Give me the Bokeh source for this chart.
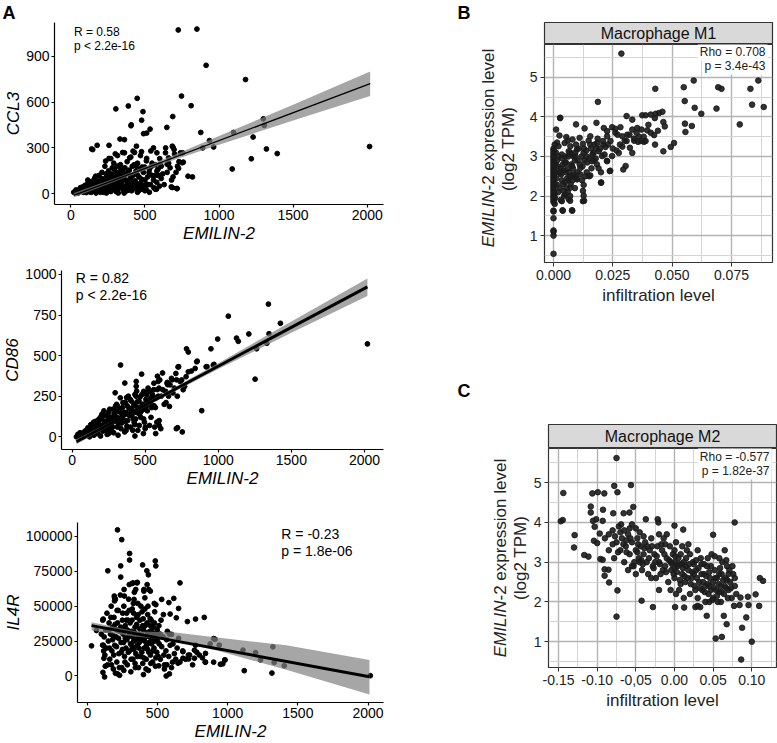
import math
from bokeh.plotting import figure
from bokeh.layouts import row, column
from bokeh.models import (Label, FixedTicker, Range1d, CustomJSTickFormatter,
                          BasicTickFormatter, Title, Div)
from bokeh.embed import file_html
from bokeh.resources import INLINE

FONT = "Liberation Sans"

# ----------------------------- data: panel A -----------------------------
A_X_TICKS = [0, 500, 1000, 1500, 2000]
CCL3_Y_TICKS = [0, 300, 600, 900]
CD86_Y_TICKS = [0, 250, 500, 750, 1000]
IL4R_Y_TICKS = [0, 25000, 50000, 75000, 100000]

ccl3_pts = [
    (725, 1071), (851, 1077), (913, 840), (1179, 747), (448, 624), (747, 639), (304, 555),
    (388, 574), (487, 537), (812, 576), (688, 505), (478, 481), (406, 445), (648, 434),
    (535, 423), (491, 393), (877, 401), (1098, 401), (1299, 490), (1306, 447), (1230, 371),
    (936, 348), (890, 300), (964, 306), (1320, 293), (1393, 263), (2016, 309), (1218, 229),
    (1089, 162), (791, 115), (821, 110), (678, 45), (718, 34), (141, 293), (178, 317),
    (258, 317), (332, 358), (690, 304), (740, 268), (752, 203), (660, 235),
    (408, 451), (512, 397), (362, 354), (685, 311), (697, 289), (443, 311), (558, 300),
    (581, 268), (639, 268), (754, 268), (759, 207), (727, 166), (650, 193), (581, 149),
    (604, 192), (148, 289), (235, 214), (258, 231), (300, 261), (362, 268), (420, 279),
    (477, 275), (512, 231), (397, 235), (316, 181), (443, 181), (547, 181), (685, 41),
    (715, 34), (512, 63), (570, 30),
    (20, 10), (35, 25), (50, 5), (60, 30), (75, 15), (80, 45), (90, 20), (100, 35),
    (105, 8), (110, 60), (120, 25), (125, 50), (130, 12), (140, 80), (145, 40), (150, 20),
    (155, 65), (160, 100), (165, 30), (170, 5), (175, 55), (180, 85), (185, 15), (190, 120),
    (195, 45), (200, 70), (205, 25), (210, 140), (215, 95), (220, 10), (225, 60), (230, 180),
    (235, 35), (240, 110), (245, 75), (250, 20), (255, 150), (260, 50), (265, 90), (270, 230),
    (275, 130), (280, 30), (285, 70), (290, 200), (295, 160), (300, 105), (305, 15), (310, 55),
    (315, 250), (320, 85), (325, 140), (330, 40), (335, 190), (340, 115), (345, 65), (350, 270),
    (355, 20), (360, 95), (365, 170), (370, 45), (375, 130), (380, 210), (385, 75), (390, 25),
    (395, 155), (400, 100), (405, 240), (410, 60), (415, 180), (420, 120), (425, 35), (430, 270),
    (435, 85), (440, 150), (450, 200), (455, 55), (460, 110), (470, 250), (475, 30), (480, 175),
    (490, 140), (500, 90), (510, 215), (520, 60), (530, 160), (540, 280), (550, 120), (560, 40),
    (570, 190), (580, 75), (600, 230), (620, 130), (640, 300), (660, 200), (680, 90), (700, 260),
    (720, 180), (130, 70), (170, 40), (200, 10), (230, 85), (260, 120), (290, 50), (320, 5),
    (350, 150), (380, 55), (410, 20), (440, 40), (470, 70), (500, 20), (530, 10), (115, 90),
    (135, 30), (160, 60), (190, 20), (210, 45), (240, 5), (270, 15), (300, 35), (330, 95),
    (360, 5), (390, 60), (420, 80), (450, 10), (480, 45), (250, 100), (280, 170), (310, 125),
    (55, 15), (65, 40), (85, 10), (95, 55), (112, 28), (118, 75), (128, 40), (138, 10),
    (148, 55), (158, 25), (162, 80), (168, 115), (178, 45), (188, 70), (198, 30), (208, 100),
    (218, 50), (228, 15), (238, 130), (248, 45), (258, 85), (268, 20), (278, 60), (288, 105),
    (298, 75), (308, 140), (318, 30), (328, 70), (338, 165), (348, 45), (358, 125), (368, 90),
    (378, 20), (388, 145), (398, 50), (408, 110), (418, 30), (428, 190), (438, 65), (448, 125),
    (458, 20), (468, 160), (478, 95), (488, 55), (498, 175), (508, 30), (518, 110), (528, 140),
    (538, 60), (548, 200), (558, 90), (568, 120), (578, 30), (588, 160), (598, 50), (610, 100),
    (630, 60), (650, 140), (670, 170), (690, 110), (710, 140), (730, 210), (590, 120), (610, 180),
]
ccl3_fit_x = [20, 2020]
ccl3_fit_y = [-10, 720]
ccl3_band_x = [20, 350, 700, 1000, 1500, 2020]
ccl3_band_lo = [-25, 100, 222, 320, 480, 640]
ccl3_band_hi = [5, 120, 255, 378, 582, 800]

cd86_pts = [
    (1343, 817), (1069, 743), (332, 442), (1425, 699), (1209, 633), (1347, 635), (996, 602),
    (1125, 608), (1137, 588), (2020, 572), (1332, 576), (1262, 542), (950, 542), (783, 542),
    (795, 522), (856, 466), (923, 432), (966, 442), (816, 405), (1252, 355), (476, 386),
    (361, 331), (652, 335), (729, 432), (887, 161), (722, 56), (754, 30), (607, 50), (488, 20),
    (430, 5), (439, 341), (439, 311), (584, 373), (619, 393), (589, 341), (654, 321), (685, 351),
    (715, 351), (725, 430), (795, 400), (842, 421), (853, 462), (917, 431), (971, 446),
    (643, 211), (666, 187), (713, 50), (572, 20), (502, 60), (596, 100), (596, 70), (295, 271),
    (373, 241), (442, 281), (513, 271), (548, 231), (584, 291), (561, 191),
    (30, 0), (45, 10), (60, -5), (70, 20), (85, 5), (95, 30), (105, 15), (115, 45), (120, 0),
    (130, 25), (140, 55), (150, 10), (155, 40), (165, 70), (175, 20), (180, 90), (190, 50),
    (195, 5), (200, 110), (210, 35), (215, 75), (225, 130), (230, 60), (240, 15), (245, 100),
    (250, 150), (260, 45), (265, 120), (270, 80), (280, 170), (285, 25), (290, 135), (300, 95),
    (305, 200), (310, 60), (320, 155), (325, 110), (330, 240), (340, 85), (345, 180), (350, 130),
    (360, 30), (365, 210), (370, 150), (380, 100), (385, 250), (390, 175), (400, 60), (405, 220),
    (410, 135), (420, 190), (425, 90), (430, 260), (440, 150), (445, 215), (450, 40), (455, 180),
    (465, 245), (470, 120), (480, 200), (490, 280), (495, 90), (505, 230), (515, 160), (520, 300),
    (530, 210), (540, 120), (550, 260), (560, 330), (570, 180), (580, 90), (590, 250), (600, 350),
    (620, 290), (630, 200), (650, 330), (660, 250), (680, 360), (700, 300), (720, 250), (740, 340),
    (760, 290), (780, 370), (100, 40), (140, 20), (160, 95), (185, 110), (205, 140), (235, 40),
    (255, 70), (275, 30), (295, 160), (315, 10), (335, 50), (355, 100), (375, 65), (395, 130),
    (415, 40), (435, 110), (460, 70), (475, 160), (500, 50), (510, 190), (530, 70), (545, 180),
    (565, 60), (125, 60), (170, 35), (220, 95), (250, 20), (280, 110), (310, 190), (340, 140),
    (370, 40), (400, 170), (430, 75), (460, 140), (490, 110),
    (40, 15), (55, 25), (75, 0), (88, 35), (98, 15), (108, 55), (118, 30), (128, 75), (138, 45),
    (148, 90), (158, 60), (168, 25), (178, 100), (188, 70), (198, 125), (208, 55), (218, 160),
    (228, 95), (238, 70), (248, 125), (258, 170), (268, 105), (278, 60), (288, 145), (298, 190),
    (308, 120), (318, 80), (328, 170), (338, 115), (348, 210), (358, 150), (368, 95), (378, 190),
    (388, 135), (398, 230), (408, 165), (418, 110), (428, 200), (438, 250), (448, 175),
    (458, 220), (468, 150), (478, 260), (488, 200), (498, 170), (508, 260), (518, 210),
    (528, 280), (538, 240), (548, 190), (558, 290), (575, 240), (595, 300), (610, 250),
    (640, 280), (670, 320), (690, 270), (710, 390), (750, 350), (770, 310),
]
cd86_fit_x = [30, 2020]
cd86_fit_y = [-30, 923]
cd86_band_x = [30, 350, 1000, 1500, 2020]
cd86_band_lo = [-45, 115, 417, 640, 867]
cd86_band_hi = [-15, 131, 453, 710, 975]

il4r_pts = [
    (215, 104700), (245, 97700), (301, 87800), (301, 83100), (484, 82400), (488, 78900),
    (394, 79600), (238, 78900), (146, 75400), (424, 75400), (435, 72500), (238, 70900),
    (660, 66700), (354, 66700), (319, 66300), (262, 62000), (403, 62000), (449, 60800),
    (192, 57300), (530, 54900), (616, 55600), (581, 52600), (477, 52000), (650, 48400),
    (590, 44400), (713, 39000), (771, 40800), (833, 42000), (600, 29800), (910, 26300),
    (875, 23000), (940, 22100), (771, 22100), (1322, 20900), (1109, 18500), (1199, 16700),
    (1234, 11500), (979, 11500), (948, 8400), (840, 9900), (1331, 9700), (1403, 7300),
    (1118, 3800), (1315, 2100), (2016, 200), (30, 21600), (65, 32600), (562, 0), (585, 1500),
    (549, 5000), (123, -700), (111, 2600), (215, 1500),
    (326, 66700), (356, 67100), (299, 65500), (426, 65500), (438, 62000), (345, 62000),
    (194, 56100), (194, 53800), (264, 57300), (333, 54900), (403, 60800), (488, 51100),
    (542, 44000), (634, 41700), (113, 40800), (109, 22100), (116, 17900), (118, 12700),
    (900, 26800), (842, 16200), (763, 18500), (798, 15000), (729, 15000), (681, 17400),
    (681, 12700), (722, 12200), (763, 12700), (842, 9900), (900, 9900), (965, 8700),
    (981, 11500), (646, 9200), (607, 9900), (567, 8000), (509, 7300),
    (110, 40000), (120, 28000), (125, 15000), (130, 33000), (135, 20000), (140, 45000),
    (145, 8000), (150, 25000), (155, 38000), (160, 12000), (165, 30000), (170, 50000),
    (175, 18000), (180, 35000), (185, 5000), (190, 42000), (195, 22000), (200, 55000),
    (205, 28000), (210, 10000), (215, 38000), (220, 47000), (225, 16000), (230, 32000),
    (235, 58000), (240, 24000), (245, 6000), (250, 40000), (255, 30000), (260, 50000),
    (265, 14000), (270, 36000), (275, 20000), (280, 45000), (285, 8000), (290, 28000),
    (295, 55000), (300, 18000), (305, 38000), (310, 3000), (315, 32000), (320, 48000),
    (325, 12000), (330, 25000), (335, 60000), (340, 35000), (345, 16000), (350, 42000),
    (355, 22000), (360, 52000), (365, 6000), (370, 30000), (375, 40000), (380, 14000),
    (385, 26000), (390, 46000), (395, 9000), (400, 33000), (405, 20000), (410, 56000),
    (415, 28000), (420, 12000), (425, 38000), (430, 44000), (435, 4000), (440, 24000),
    (445, 32000), (450, 15000), (455, 40000), (460, 27000), (465, 10000), (470, 35000),
    (475, 20000), (480, 46000), (485, 7000), (490, 30000), (495, 17000), (500, 25000),
    (510, 36000), (520, 12000), (530, 21000), (540, 28000), (550, 8000), (560, 18000),
    (570, 32000), (580, 14000), (590, 22000), (600, 6000), (620, 16000), (640, 20000),
    (660, 10000), (680, 18000), (700, 12000), (720, 15000), (750, 8000), (780, 17000),
    (820, 13000), (100, 30000), (115, 22000), (128, 7000), (200, 2000), (230, 500),
    (260, 4000), (290, 40000), (330, 45000), (370, 24000), (410, 48000), (450, 36000),
    (480, 25000), (520, 30000), (270, 27000), (340, 9000), (400, 1000), (180, 26000),
    (210, 33000), (250, 19000), (285, 33000), (320, 21000), (360, 29000), (395, 36000),
    (430, 19000), (465, 31000), (505, 14000),
    (150, 33000), (158, 20000), (168, 42000), (172, 8000), (182, 29000), (188, 15000),
    (198, 37000), (208, 21000), (212, 47000), (222, 27000), (228, 6000), (238, 35000),
    (242, 17000), (252, 45000), (258, 24000), (262, 33000), (268, 10000), (278, 40000),
    (282, 26000), (292, 17000), (298, 47000), (302, 31000), (308, 23000), (312, 12000),
    (318, 40000), (322, 28000), (328, 52000), (332, 19000), (338, 31000), (342, 6000),
    (348, 26000), (352, 37000), (358, 14000), (362, 44000), (368, 20000), (372, 34000),
    (378, 27000), (382, 50000), (388, 17000), (392, 29000), (398, 41000), (402, 13000),
    (408, 25000), (412, 36000), (418, 5000), (422, 22000), (428, 31000), (432, 50000),
    (438, 17000), (442, 28000), (448, 41000), (452, 9000), (458, 23000), (462, 35000),
    (468, 18000), (472, 27000), (478, 38000), (488, 13000), (498, 33000), (512, 23000),
    (525, 40000), (545, 15000), (565, 26000), (585, 30000), (610, 23000), (630, 12000),
    (650, 27000),
]
il4r_fit_x = [30, 2010]
il4r_fit_y = [36100, -500]
il4r_band_x = [30, 350, 609, 956, 1417, 2010]
il4r_band_lo = [32600, 28200, 25600, 17400, 4400, -13200]
il4r_band_hi = [38500, 31800, 31400, 27200, 22000, 11500]

# ----------------------------- data: panels B and C -----------------------------
B_X_TICKS = [0.0, 0.025, 0.05, 0.075]
B_X_MINOR = [0.0125, 0.0375, 0.0625, 0.0875]
B_X_LABELS = ["0.000", "0.025", "0.050", "0.075"]
BC_Y_TICKS = [1, 2, 3, 4, 5]
BC_Y_MINOR = [0.5, 1.5, 2.5, 3.5, 4.5, 5.5]
C_X_TICKS = [-0.15, -0.10, -0.05, 0.0, 0.05, 0.10]
C_X_MINOR = [-0.125, -0.075, -0.025, 0.025, 0.075, 0.125]
C_X_LABELS = ["-0.15", "-0.10", "-0,05", "0.00", "0.05", "0.10"]

m1_pts = [
    (0, 0.54), (0, 1.0), (0, 1.1), (0, 1.13), (0, 1.44), (0, 1.61), (0, 1.63), (0, 1.85),
    (0, 1.9), (0, 1.95), (0, 2.0), (0, 2.05), (0, 2.1), (0, 2.15), (0, 2.2), (0, 2.25),
    (0, 2.3), (0, 2.35), (0, 2.4), (0, 2.45), (0, 2.5), (0, 2.55), (0, 2.6), (0, 2.65),
    (0, 2.7), (0, 2.75), (0, 2.8), (0, 2.85), (0, 2.9), (0, 2.95), (0, 3.0), (0, 3.05),
    (0, 3.1), (0, 3.15), (0, 3.2), (0.0005, 2.3), (0.0008, 2.8), (0.0006, 1.95),
    (0.001, 2.6), (0.001, 3.1),
    (0.0028, 3.97), (0.0011, 3.68), (0.0025, 3.53), (0.0095, 3.81), (0.0131, 3.71),
    (0.0181, 3.85), (0.0054, 3.49), (0.008, 3.43), (0.011, 3.47), (0.0155, 3.51),
    (0.0124, 3.32), (0.0047, 3.34), (0.0021, 3.26), (0.0071, 3.26), (0.0099, 3.18),
    (0.0155, 3.30), (0.0184, 3.34), (0.0219, 3.24), (0.024, 3.39), (0.0212, 3.72),
    (0.0226, 3.64), (0.0035, 3.05), (0.0064, 3.13), (0.0092, 3.01), (0.0127, 3.09),
    (0.0169, 3.09), (0.0191, 3.13), (0.0247, 3.01), (0.0275, 3.09), (0.0205, 3.01),
    (0.0226, 2.88), (0.0304, 2.76), (0.0294, 2.67), (0.0237, 2.63), (0.0201, 2.34),
    (0.0155, 2.52), (0.0162, 2.88), (0.0113, 2.71), (0.0078, 2.76), (0.0049, 2.84),
    (0.0028, 2.59), (0.0068, 2.50), (0.0099, 2.42), (0.0127, 2.28), (0.0124, 2.13),
    (0.0124, 1.87), (0.0071, 2.21), (0.0042, 2.13), (0.0064, 1.92), (0.0035, 1.87),
    (0.0049, 2.04), (0.0014, 2.29), (0.0038, 1.64), (0.0078, 1.64),
    (0.0282, 3.74), (0.0332, 3.93), (0.0332, 3.68), (0.0308, 4.02), (0.0374, 4.04),
    (0.0388, 4.04), (0.041, 4.06), (0.0431, 4.08), (0.0445, 4.10), (0.0459, 4.13),
    (0.0427, 3.97), (0.0463, 3.87), (0.0469, 3.76), (0.0395, 3.66), (0.041, 3.60),
    (0.0424, 3.54), (0.0367, 3.39), (0.0388, 3.39), (0.0339, 3.45), (0.0308, 3.39),
    (0.0311, 3.55), (0.029, 3.51), (0.0261, 3.60), (0.0247, 3.74), (0.0226, 3.51),
    (0.0209, 3.39), (0.0322, 3.22), (0.0332, 3.09), (0.0356, 3.37), (0.028, 3.30),
    (0.0266, 3.15), (0.0428, 3.30), (0.0463, 3.13), (0.0494, 3.24), (0.0508, 3.34),
    (0.0381, 3.37), (0.0371, 3.68), (0.0353, 3.72),
    (0.0286, 5.60), (0.0429, 4.71), (0.0549, 4.75), (0.0591, 4.92), (0.0694, 4.75),
    (0.0708, 4.71), (0.0830, 4.71), (0.0863, 4.92), (0.0553, 4.40), (0.0595, 4.23),
    (0.0623, 4.08), (0.0687, 4.21), (0.0837, 4.31), (0.0886, 4.25), (0.0554, 3.83),
    (0.0556, 3.62), (0.0583, 3.77), (0.0785, 3.81), (0.0187, 4.38), (0.0028, 3.98),
    (0.0183, 2.80), (0.0225, 2.89), (0.0239, 2.64), (0.0200, 2.34), (0.0129, 1.88),
    (0.0127, 2.01), (0.0079, 1.63), (0.0039, 1.63), (0.0070, 1.88),
    (0.002, 2.1), (0.003, 1.9), (0.0035, 2.4), (0.004, 2.8), (0.0045, 2.0), (0.005, 2.6),
    (0.0055, 2.2), (0.006, 2.7), (0.0065, 2.4), (0.007, 3.1), (0.007, 2.0), (0.0075, 2.8),
    (0.008, 2.5), (0.0085, 3.0), (0.009, 2.2), (0.009, 2.9), (0.010, 2.6), (0.011, 2.8),
    (0.012, 2.4), (0.013, 2.9), (0.014, 2.6), (0.015, 2.5), (0.017, 2.9), (0.019, 2.7),
    (0.004, 2.3), (0.006, 2.1), (0.008, 2.4), (0.003, 2.7), (0.016, 2.7), (0.02, 2.6),
    (0.0015, 2.9), (0.0025, 2.6), (0.005, 3.0), (0.006, 3.4), (0.0095, 3.3), (0.014, 3.0),
    (0.018, 3.2), (0.021, 3.3), (0.026, 3.7), (0.030, 3.4), (0.034, 3.4), (0.036, 3.5),
    (0.0012, 2.45), (0.0018, 2.75), (0.0022, 3.0), (0.0026, 2.2), (0.0032, 2.55),
    (0.0036, 2.95), (0.0042, 2.65), (0.0048, 2.35), (0.0052, 2.85), (0.0058, 2.45),
    (0.0062, 3.0), (0.0066, 2.6), (0.0072, 2.3), (0.0076, 3.05), (0.0082, 2.7),
    (0.0086, 2.55), (0.0092, 3.1), (0.0096, 2.45), (0.0102, 2.9), (0.0106, 3.2),
    (0.0112, 2.55), (0.0118, 3.0), (0.0122, 2.75), (0.0128, 3.2), (0.0134, 2.5),
    (0.0138, 3.15), (0.0142, 2.85), (0.0148, 3.4), (0.0152, 2.95), (0.0158, 3.2),
    (0.0164, 3.05), (0.0172, 3.3), (0.0178, 2.95), (0.0186, 3.45), (0.0196, 3.2),
    (0.0215, 3.05), (0.023, 3.3), (0.025, 3.2), (0.027, 3.55), (0.029, 3.25), (0.032, 3.55),
    (0.035, 3.6), (0.038, 3.5), (0.04, 3.8), (0.044, 3.65), (0.0015, 3.35), (0.0005, 3.3),
    (0.0005, 1.8), (0.0005, 2.05), (0.0003, 2.55),
]

m2_pts = [
    (-0.075, 5.62), (-0.1438, 4.74), (-0.1471, 4.03), (-0.1446, 4.06), (-0.1292, 3.68),
    (-0.130, 3.37), (-0.1167, 3.18), (-0.1113, 3.14), (-0.1083, 4.40), (-0.1083, 4.25),
    (-0.1063, 4.73), (-0.0992, 4.76), (-0.0908, 4.73), (-0.0779, 4.92), (-0.0738, 4.76),
    (-0.0563, 4.94), (-0.0925, 4.32), (-0.0792, 4.23), (-0.0658, 4.23), (-0.0583, 4.25),
    (-0.0533, 4.39), (-0.1054, 4.04), (-0.1013, 4.08), (-0.0929, 4.04), (-0.1033, 3.89),
    (-0.0967, 3.72), (-0.1042, 3.54), (-0.100, 3.48), (-0.0958, 3.08), (-0.0929, 3.06),
    (-0.0904, 2.82), (-0.0854, 2.81), (-0.0904, 2.66), (-0.0846, 2.49), (-0.0738, 2.29),
    (-0.075, 1.63), (-0.0425, 2.03), (-0.0371, 4.08), (-0.0217, 4.08), (-0.0208, 4.00),
    (0.0, 3.92), (0.0113, 3.82), (-0.0279, 1.87), (0.0008, 1.87), (0.0125, 1.86),
    (0.0271, 1.87), (0.0333, 1.87), (0.0417, 1.65), (0.0533, 1.08), (0.0613, 1.12),
    (0.0638, 1.65), (0.0675, 1.44), (0.0779, 4.00), (0.05, 3.69), (0.0842, 1.92),
    (0.0875, 1.35), (0.0929, 1.61), (0.0958, 1.92), (0.095, 2.13), (0.10, 1.0),
    (0.0863, 0.55), (0.105, 2.19), (0.1096, 1.90), (0.1104, 2.60), (0.1146, 2.53),
    (0.0854, 2.11), (0.0771, 1.90),
    (-0.09, 3.6), (-0.085, 3.3), (-0.08, 3.8), (-0.078, 3.1), (-0.075, 3.5), (-0.072, 3.9),
    (-0.07, 3.3), (-0.068, 3.6), (-0.065, 3.0), (-0.063, 3.4), (-0.06, 3.7), (-0.058, 3.2),
    (-0.055, 3.5), (-0.053, 2.9), (-0.05, 3.3), (-0.048, 3.6), (-0.046, 3.1), (-0.044, 3.4),
    (-0.042, 2.8), (-0.04, 3.2), (-0.038, 3.5), (-0.036, 3.0), (-0.034, 2.7), (-0.032, 3.3),
    (-0.03, 3.6), (-0.028, 2.9), (-0.026, 3.2), (-0.024, 2.6), (-0.022, 3.4), (-0.02, 3.0),
    (-0.018, 2.7), (-0.016, 3.3), (-0.014, 3.6), (-0.012, 2.9), (-0.01, 3.1), (-0.008, 2.5),
    (-0.006, 3.4), (-0.004, 2.8), (-0.002, 3.2), (0.0, 2.6), (0.0, 3.0), (0.002, 3.5),
    (0.004, 2.9), (0.006, 2.3), (0.008, 3.2), (0.01, 2.7), (0.012, 3.0), (0.014, 2.5),
    (0.016, 3.3), (0.018, 2.8), (0.02, 2.2), (0.022, 2.6), (0.024, 3.0), (0.026, 2.4),
    (0.028, 2.8), (0.03, 2.1), (0.032, 2.5), (0.034, 3.1), (0.036, 2.3), (0.038, 2.7),
    (0.04, 2.0), (0.04, 2.4), (0.042, 2.9), (0.044, 2.2), (0.046, 2.6), (0.048, 3.2),
    (0.05, 2.1), (0.05, 2.5), (0.052, 2.8), (0.054, 2.3), (0.056, 2.0), (0.058, 2.7),
    (0.06, 2.4), (0.062, 3.0), (0.064, 2.2), (0.066, 2.6), (0.068, 2.9), (0.07, 2.3),
    (0.072, 2.5), (0.074, 2.1), (0.076, 2.7), (0.078, 2.4), (0.08, 2.2),
    (-0.055, 2.9), (-0.045, 3.0), (-0.035, 3.4), (-0.025, 3.0), (-0.015, 2.8), (-0.005, 3.0),
    (0.005, 3.1), (0.015, 2.9), (0.025, 2.7), (0.035, 2.7), (0.045, 2.4), (0.055, 2.6),
    (0.065, 2.4), (0.075, 2.9), (-0.01, 3.7), (0.0, 3.3), (0.01, 3.4), (0.02, 3.2),
    (0.03, 3.3), (-0.02, 3.7), (-0.06, 2.8), (-0.065, 3.8), (-0.052, 3.0), (0.045, 2.0),
    (0.06, 2.0), (0.07, 2.7), (0.058, 3.1), (0.065, 3.3), (0.03, 1.9), (-0.005, 2.3),
    (-0.02, 2.3), (-0.03, 2.6), (0.012, 2.1), (0.002, 2.2), (-0.085, 3.7), (-0.08, 3.45),
    (-0.07, 3.75), (-0.062, 3.55), (-0.058, 3.85), (-0.045, 3.75), (-0.04, 3.65),
    (-0.048, 3.25), (-0.043, 3.05), (-0.039, 3.35), (-0.033, 3.1), (-0.029, 3.4),
    (-0.027, 2.85), (-0.023, 3.15), (-0.019, 2.95), (-0.017, 3.45), (-0.013, 3.2),
    (-0.011, 2.75), (-0.007, 3.05), (-0.003, 2.95), (-0.001, 2.7), (0.001, 3.15),
    (0.003, 2.75), (0.005, 2.95), (0.007, 2.55), (0.009, 2.95), (0.011, 2.85), (0.013, 2.65),
    (0.015, 3.1), (0.017, 2.6), (0.019, 2.95), (0.021, 2.45), (0.023, 2.75), (0.025, 2.95),
    (0.027, 2.3), (0.029, 2.6), (0.031, 2.85), (0.033, 2.35), (0.035, 2.95), (0.037, 2.5),
    (0.039, 2.25), (0.041, 2.65), (0.043, 2.45), (0.045, 2.75), (0.047, 2.3), (0.049, 2.05),
    (0.051, 2.35), (0.053, 2.6), (0.055, 2.15), (0.057, 2.45), (0.059, 2.85), (0.061, 2.25),
    (0.063, 2.55), (0.067, 2.35), (0.069, 2.1), (0.071, 2.8), (0.073, 2.35), (0.043, 3.1),
    (0.047, 2.9), (0.052, 3.15), (0.061, 2.7), (0.067, 3.05), (-0.062, 3.25), (-0.057, 3.6),
    (-0.05, 2.7), (-0.047, 3.45), (-0.041, 2.95), (-0.066, 3.45), (-0.073, 3.25),
    (-0.077, 3.65), (-0.069, 3.95), (-0.055, 3.95), (-0.05, 3.85), (-0.012, 3.45), (0.0, 2.85),
    (0.008, 2.45), (0.018, 3.45), (0.028, 3.05), (0.038, 2.95), (0.058, 2.25), (0.068, 2.55),
    (0.078, 2.6),
]

# ----------------------------- helpers -----------------------------
def style_a(p, yticks):
    p.outline_line_color = None
    p.grid.visible = False
    for ax in (p.xaxis[0], p.yaxis[0]):
        ax.axis_line_color = "black"
        ax.axis_line_width = 1.2
        ax.major_tick_line_color = "black"
        ax.major_tick_line_width = 1.2
        ax.major_tick_out = 3
        ax.major_tick_in = 0
        ax.minor_tick_line_color = None
        ax.major_label_text_font = FONT
        ax.major_label_text_font_size = "14px"
        ax.major_label_text_color = "black"
        ax.major_label_standoff = 2
        ax.axis_label_text_font = FONT
        ax.axis_label_text_font_size = "17px"
        ax.axis_label_text_font_style = "italic"
        ax.axis_label_text_color = "black"
        ax.axis_label_standoff = 1
        ax.formatter = BasicTickFormatter(use_scientific=False)
    p.yaxis.axis_label_standoff = 0
    p.xaxis.ticker = FixedTicker(ticks=A_X_TICKS)
    p.yaxis.ticker = FixedTicker(ticks=yticks)


def a_panel(height, top, bottom, left, xr, yr, yticks, ylabel, pts, fx, fy, bx, blo, bhi,
            lw, stat_lines, sx, sys_, ssize):
    p = figure(width=390, height=height, x_range=Range1d(*xr), y_range=Range1d(*yr),
               output_backend="svg", toolbar_location=None, min_border_left=left,
               min_border_right=7, min_border_top=top, min_border_bottom=bottom,
               frame_align=False)
    style_a(p, yticks)
    p.xaxis.axis_label = "EMILIN-2"
    p.yaxis.axis_label = ylabel
    p.scatter([q[0] for q in pts], [q[1] for q in pts], size=4.8, color="black")
    p.varea(x=bx, y1=blo, y2=bhi, fill_color="#808080", fill_alpha=0.7)
    p.line(fx, fy, line_color="black", line_width=lw)
    for txt, yy in zip(stat_lines, sys_):
        p.add_layout(Label(x=sx, y=yy, text=txt, text_font=FONT, text_font_size=ssize,
                           text_align="left", text_baseline="middle", text_color="black"))
    return p


def letter_title(text, offset, standoff):
    return Title(text=text, align="left", offset=offset, standoff=standoff, text_font=FONT,
                 text_font_size="18px", text_font_style="bold", text_color="black")


def ylab_div(width, height, c1, c2):
    base = ("position:absolute;white-space:nowrap;font-family:'Liberation Sans';"
            "font-size:17px;color:#222222;line-height:1;"
            "transform:translate(-50%,-50%) rotate(-90deg);")
    html = (f'<div style="position:relative;width:{width}px;height:{height}px;">'
            f'<div style="{base}left:{c1[0]}px;top:{c1[1]}px;">'
            f'<i>EMILIN</i>-2 expression level</div>'
            f'<div style="{base}left:{c2[0]}px;top:{c2[1]}px;">(log2 TPM)</div></div>')
    return Div(text=html, width=width, height=height, margin=0)


def bc_panel(title, letter, strip_h, strip_top, letter_offset, letter_standoff, left, right,
             main_h, main_bottom, div_w, div_c1, div_c2, xr, yr, xticks, xminor, xlabels,
             pts, stat_lines, stat_ys):
    strip = figure(width=387, height=strip_h, x_range=Range1d(0, 1), y_range=Range1d(0, 1),
                   x_axis_type=None, y_axis_type=None, output_backend="svg",
                   toolbar_location=None, min_border_left=left, min_border_right=right,
                   min_border_top=strip_top, min_border_bottom=0, frame_align=False)
    strip.background_fill_color = "#d9d9d9"
    strip.outline_line_color = "#333333"
    strip.outline_line_width = 1.2
    strip.add_layout(Label(x=0.5, y=0.5, text=title, text_font=FONT, text_font_size="16px",
                           text_align="center", text_baseline="middle", text_color="#111111"))
    strip.add_layout(letter_title(letter, letter_offset, letter_standoff), "above")

    main_w = 387 - div_w
    p = figure(width=main_w, height=main_h, x_range=Range1d(*xr), y_range=Range1d(*yr),
               output_backend="svg", toolbar_location=None,
               min_border_left=left - div_w, min_border_right=right, min_border_top=0,
               min_border_bottom=main_bottom, frame_align=False)
    p.outline_line_color = "#333333"
    p.outline_line_width = 1.2
    p.grid.grid_line_color = "#b3b3b3"
    p.grid.grid_line_width = 1.4
    p.grid.minor_grid_line_color = "#d4d4d4"
    p.grid.minor_grid_line_width = 1.0
    p.xaxis.ticker = FixedTicker(ticks=xticks, minor_ticks=xminor)
    p.yaxis.ticker = FixedTicker(ticks=BC_Y_TICKS, minor_ticks=BC_Y_MINOR)
    p.xaxis.formatter = CustomJSTickFormatter(args=dict(labels=xlabels),
                                              code="return labels[index];")
    for ax in (p.xaxis[0], p.yaxis[0]):
        ax.axis_line_color = None
        ax.major_tick_line_color = "#333333"
        ax.major_tick_out = 4
        ax.major_tick_in = 0
        ax.minor_tick_line_color = None
        ax.major_label_text_font = FONT
        ax.major_label_text_font_size = "14px"
        ax.major_label_text_color = "#222222"
        ax.major_label_standoff = 3
    p.xaxis.axis_label = "infiltration level"
    p.xaxis.axis_label_text_font = FONT
    p.xaxis.axis_label_text_font_size = "17px"
    p.xaxis.axis_label_text_font_style = "normal"
    p.xaxis.axis_label_text_color = "#222222"
    p.xaxis.axis_label_standoff = 3
    p.scatter([q[0] for q in pts], [q[1] for q in pts], size=5.6, color="#1c1c1c", alpha=0.9)
    fw = main_w - (left - div_w) - right
    for txt, yy in zip(stat_lines, stat_ys):
        p.add_layout(Label(x=fw - 5, y=yy, x_units="screen", y_units="screen", text=txt,
                           text_font=FONT, text_font_size="12px", text_align="right",
                           text_baseline="middle", text_color="#222222",
                           background_fill_color="white", padding=2))
    div = ylab_div(div_w, main_h, div_c1, div_c2)
    return column(strip, row(div, p))


# ----------------------------- panel A -----------------------------
a1 = a_panel(245, 0, 41, 54, (-110, 2110), (-70, 1120), CCL3_Y_TICKS, "CCL3", ccl3_pts,
             ccl3_fit_x, ccl3_fit_y, ccl3_band_x, ccl3_band_lo, ccl3_band_hi, 1.3,
             ["R = 0.58", "p < 2.2e-16"], 21, [1056, 965], "12px")
a1.add_layout(letter_title("A", -52, 0), "above")
a2 = a_panel(245, 25, 37, 40, (-72, 2130), (-78, 1024), CD86_Y_TICKS, "CD86", cd86_pts,
             cd86_fit_x, cd86_fit_y, cd86_band_x, cd86_band_lo, cd86_band_hi, 3,
             ["R = 0.82", "p < 2.2e-16"], 26, [976, 873], "14px")
a3 = a_panel(253, 32, 38, 40, (-70, 2110), (-19000, 110000), IL4R_Y_TICKS, "IL4R", il4r_pts,
             il4r_fit_x, il4r_fit_y, il4r_band_x, il4r_band_lo, il4r_band_hi, 3,
             ["R = -0.23", "p = 1.8e-06"], 1382, [102100, 89400], "14px")

# ----------------------------- panels B and C -----------------------------
panel_b = bc_panel("Macrophage M1", "B", 44, 0, -87, 0, 154, 5, 310, 92, 130,
                   (98, 104), (118, 105), (-0.0038, 0.0923), (0.32, 5.83),
                   B_X_TICKS, B_X_MINOR, B_X_LABELS, m1_pts,
                   ["Rho = 0.708", "p = 3.4e-43"], [211, 197])
panel_c = bc_panel("Macrophage M2", "C", 94, 0, -91, 48, 158, 1, 295, 76, 140,
                   (110, 110), (130, 110), (-0.163, 0.132), (0.35, 5.86),
                   C_X_TICKS, C_X_MINOR, C_X_LABELS, m2_pts,
                   ["Rho = -0.577", "p = 1.82e-37"], [211, 197])

layout = row(column(a1, a2, a3), column(panel_b, panel_c))

with open("out.html", "w") as f:
    f.write(file_html(layout, INLINE))
